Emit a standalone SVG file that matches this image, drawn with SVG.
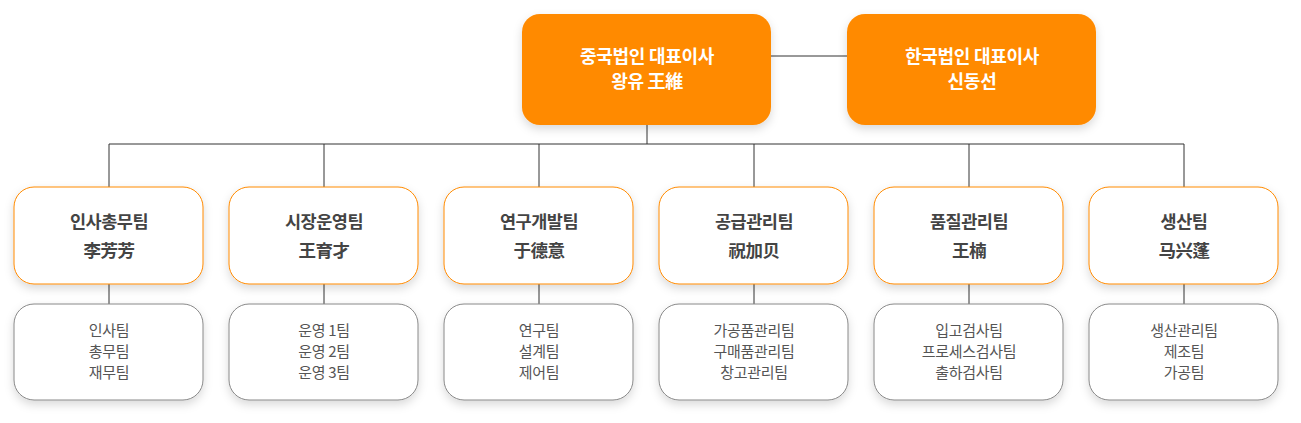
<svg xmlns="http://www.w3.org/2000/svg" width="1301" height="423" viewBox="0 0 1301 423">
<style>
text{font-family:"Noto Sans CJK KR","Noto Sans CJK SC",sans-serif;text-anchor:middle}
.top{fill:#ff8a00}
.tt{fill:#fff;font-size:18px;font-weight:bold;letter-spacing:-0.3px}
.mid{fill:#fff;stroke:#ff8a00;stroke-width:1}
.mt{fill:#444;font-size:17.5px;font-weight:bold;letter-spacing:-0.5px}
.bot{fill:#fff;stroke:#888;stroke-width:1}
.bt{fill:#555;font-size:15px;letter-spacing:-0.3px}
.ln{stroke:#333;stroke-width:1;fill:none}
</style>
<defs>
<filter id="sh" x="-20%" y="-20%" width="140%" height="150%">
<feDropShadow dx="0" dy="4" stdDeviation="5" flood-color="#000" flood-opacity="0.15"/>
</filter>
</defs>
<g id="connectors" class="ln">
<path d="M771 56H847M647 125V144M109 144H1184M109 144V187M324 144V187M539 144V187M754 144V187M969 144V187M1184 144V187"/>
<path d="M109 284V304M324 284V304M539 284V304M754 284V304M969 284V304M1184 284V304"/>
</g>
<g id="ceo-cn"><rect class="top" x="522" y="14" width="249" height="111" rx="18" filter="url(#sh)"/><text class="tt" x="647" y="63">중국법인 대표이사</text><text class="tt" x="647" y="88">왕유 王維</text></g>
<g id="ceo-kr"><rect class="top" x="847" y="14" width="249" height="111" rx="18" filter="url(#sh)"/><text class="tt" x="972" y="63">한국법인 대표이사</text><text class="tt" x="972" y="88">신동선</text></g>
<g id="t1"><rect class="mid" x="14" y="187" width="189" height="97" rx="20" filter="url(#sh)"/><text class="mt" x="109" y="228">인사총무팀</text><text class="mt" x="109" y="257">李芳芳</text></g>
<g id="t2"><rect class="mid" x="229" y="187" width="189" height="97" rx="20" filter="url(#sh)"/><text class="mt" x="324" y="228">시장운영팀</text><text class="mt" x="324" y="257">王育才</text></g>
<g id="t3"><rect class="mid" x="444" y="187" width="189" height="97" rx="20" filter="url(#sh)"/><text class="mt" x="539" y="228">연구개발팀</text><text class="mt" x="539" y="257">于德意</text></g>
<g id="t4"><rect class="mid" x="659" y="187" width="189" height="97" rx="20" filter="url(#sh)"/><text class="mt" x="754" y="228">공급관리팀</text><text class="mt" x="754" y="257">祝加贝</text></g>
<g id="t5"><rect class="mid" x="874" y="187" width="189" height="97" rx="20" filter="url(#sh)"/><text class="mt" x="969" y="228">품질관리팀</text><text class="mt" x="969" y="257">王楠</text></g>
<g id="t6"><rect class="mid" x="1089" y="187" width="189" height="97" rx="20" filter="url(#sh)"/><text class="mt" x="1184" y="228">생산팀</text><text class="mt" x="1184" y="257">马兴蓬</text></g>
<g id="b1"><rect class="bot" x="14" y="304" width="189" height="96" rx="20" filter="url(#sh)"/><text class="bt" x="109" y="336">인사팀</text><text class="bt" x="109" y="357">총무팀</text><text class="bt" x="109" y="378">재무팀</text></g>
<g id="b2"><rect class="bot" x="229" y="304" width="189" height="96" rx="20" filter="url(#sh)"/><text class="bt" x="324" y="336">운영 1팀</text><text class="bt" x="324" y="357">운영 2팀</text><text class="bt" x="324" y="378">운영 3팀</text></g>
<g id="b3"><rect class="bot" x="444" y="304" width="189" height="96" rx="20" filter="url(#sh)"/><text class="bt" x="539" y="336">연구팀</text><text class="bt" x="539" y="357">설계팀</text><text class="bt" x="539" y="378">제어팀</text></g>
<g id="b4"><rect class="bot" x="659" y="304" width="189" height="96" rx="20" filter="url(#sh)"/><text class="bt" x="754" y="336">가공품관리팀</text><text class="bt" x="754" y="357">구매품관리팀</text><text class="bt" x="754" y="378">창고관리팀</text></g>
<g id="b5"><rect class="bot" x="874" y="304" width="189" height="96" rx="20" filter="url(#sh)"/><text class="bt" x="969" y="336">입고검사팀</text><text class="bt" x="969" y="357">프로세스검사팀</text><text class="bt" x="969" y="378">출하검사팀</text></g>
<g id="b6"><rect class="bot" x="1089" y="304" width="189" height="96" rx="20" filter="url(#sh)"/><text class="bt" x="1184" y="336">생산관리팀</text><text class="bt" x="1184" y="357">제조팀</text><text class="bt" x="1184" y="378">가공팀</text></g>
</svg>
